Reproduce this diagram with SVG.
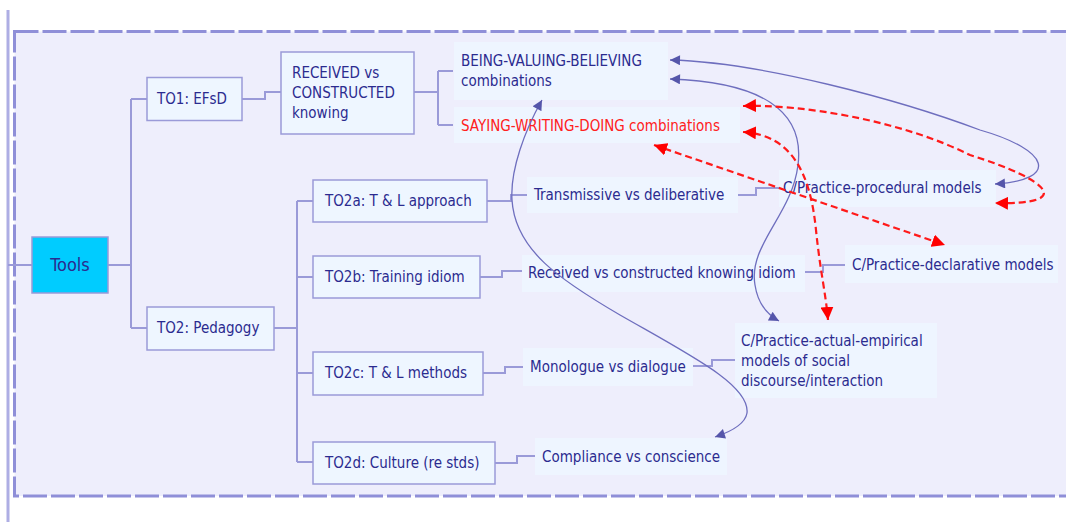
<svg xmlns="http://www.w3.org/2000/svg" width="1066" height="522" viewBox="0 0 1066 522">
<defs>
<style>
.t{font-family:"DejaVu Sans Condensed","Liberation Sans",sans-serif;font-size:15px;fill:#2B2B8F}
.red{fill:#FF2020}
.box{fill:#EEF6FF;stroke:#9A9AD8;stroke-width:1.5}
.lbl{fill:#EEF5FF}
.tree{fill:none;stroke:#9A9AD8;stroke-width:2}
.rel{fill:none;stroke:#6E6EBE;stroke-width:1.3;marker-start:url(#ab);marker-end:url(#ab)}
.rrel{fill:none;stroke:#FF1A1A;stroke-width:2.2;stroke-dasharray:7 4;marker-start:url(#ar);marker-end:url(#ar)}
</style>
<marker id="ab" viewBox="0 0 10 10" refX="10" refY="5" markerWidth="11" markerHeight="10" markerUnits="userSpaceOnUse" orient="auto-start-reverse">
<path d="M0,0 L10,5 L0,10 Z" fill="#5555AA"/>
</marker>
<marker id="ar" viewBox="0 0 10 10" refX="10" refY="5" markerWidth="13" markerHeight="13" markerUnits="userSpaceOnUse" orient="auto-start-reverse">
<path d="M0,0 L10,5 L0,10 Z" fill="#FF0000"/>
</marker>
</defs>
<rect x="0" y="0" width="1066" height="522" fill="#FFFFFF"/>
<rect x="14.5" y="31.5" width="1100" height="464.5" fill="#EEEEFC" stroke="#8F8FD8" stroke-width="3" stroke-dasharray="24 4"/>
<line x1="8" y1="10" x2="8" y2="522" stroke="#AEAEE4" stroke-width="3"/>

<g id="tree-connectors">
<path class="tree" d="M8,265 H32"/>
<path class="tree" d="M108,265 H131 M131,99 V328 M131,99 H147 M131,328 H147"/>
<path class="tree" d="M242,99 H265 V92 H281"/>
<path class="tree" d="M414,92 H438 M438,71 V125 M438,71 H453 M438,125 H453"/>
<path class="tree" d="M274,328 H297 M297,201 V462 M297,201 H313 M297,277 H313 M297,373 H313 M297,462 H313"/>
<path class="tree" d="M487,201 H511 V195 H527"/>
<path class="tree" d="M738,195 H756 V188 H779"/>
<path class="tree" d="M480,277 H502 V271 H522"/>
<path class="tree" d="M805,272 H823 V265 H845"/>
<path class="tree" d="M483,373 H505 V367 H523"/>
<path class="tree" d="M693,366 H712 V360 H735"/>
<path class="tree" d="M495,463 H517 V456 H535"/>
</g>

<g id="tools"><rect x="32" y="237" width="76" height="56" fill="#00CCFF" stroke="#9A9AD8" stroke-width="1.5"/><text class="t" x="70" y="271" text-anchor="middle" style="font-size:18px">Tools</text></g>
<g id="to1"><rect class="box" x="147" y="77.5" width="95" height="43"/><text class="t" x="157" y="104">TO1: EFsD</text></g>
<g id="to2"><rect class="box" x="147" y="307" width="127" height="43"/><text class="t" x="157" y="333">TO2: Pedagogy</text></g>
<g id="received"><rect class="box" x="281" y="52" width="133" height="82"/><text class="t" x="292" y="78">RECEIVED vs</text><text class="t" x="292" y="98">CONSTRUCTED</text><text class="t" x="292" y="118">knowing</text></g>
<g id="bvb"><rect class="lbl" x="454" y="42" width="214" height="58"/><text class="t" x="461" y="66">BEING-VALUING-BELIEVING</text><text class="t" x="461" y="86">combinations</text></g>
<g id="swd"><rect class="lbl" x="454" y="107" width="286" height="36"/><text class="t red" x="461" y="131">SAYING-WRITING-DOING combinations</text></g>
<g id="to2a"><rect class="box" x="313" y="180" width="174" height="42"/><text class="t" x="325" y="206">TO2a: T &amp; L approach</text></g>
<g id="to2b"><rect class="box" x="313" y="256" width="167" height="42"/><text class="t" x="325" y="282">TO2b: Training idiom</text></g>
<g id="to2c"><rect class="box" x="313" y="352" width="170" height="43"/><text class="t" x="325" y="378">TO2c: T &amp; L methods</text></g>
<g id="to2d"><rect class="box" x="313" y="442" width="182" height="42"/><text class="t" x="325" y="468">TO2d: Culture (re stds)</text></g>
<g id="transmissive"><rect class="lbl" x="527" y="177" width="211" height="36"/><text class="t" x="534" y="200">Transmissive vs deliberative</text></g>
<g id="procedural"><rect class="lbl" x="779" y="170" width="217" height="37"/><text class="t" x="783" y="193">C/Practice-procedural models</text></g>
<g id="received-idiom"><rect class="lbl" x="522" y="255" width="283" height="37"/><text class="t" x="528" y="278">Received vs constructed knowing idiom</text></g>
<g id="declarative"><rect class="lbl" x="845" y="245" width="213" height="38"/><text class="t" x="852" y="270">C/Practice-declarative models</text></g>
<g id="monologue"><rect class="lbl" x="523" y="348" width="170" height="38"/><text class="t" x="530" y="372">Monologue vs dialogue</text></g>
<g id="actual-empirical"><rect class="lbl" x="735" y="323" width="202" height="75"/><text class="t" x="741" y="346">C/Practice-actual-empirical</text><text class="t" x="741" y="366">models of social</text><text class="t" x="741" y="386">discourse/interaction</text></g>
<g id="compliance"><rect class="lbl" x="535" y="438" width="192" height="37"/><text class="t" x="542" y="462">Compliance vs conscience</text></g>

<g id="relations">
<path class="rel" d="M670,60 C760,62 900,100 980,130 C1050,150 1060,180 995,184"/>
<path class="rel" d="M670,79 C760,82 805,110 798,165 C792,215 748,245 755,285 C758,305 768,315 779,321"/>
<path class="rel" d="M542,100 C525,130 510,170 512,200 C515,250 560,280 620,315 C690,355 750,385 747,413 C745,425 730,432 715,437"/>
<path class="rrel" d="M743,106 C800,104 900,120 970,155 C1050,180 1075,205 995,203"/>
<path class="rrel" d="M743,132 C790,135 810,170 816,230 C820,270 826,295 828,320"/>
<path class="rrel" d="M654,145 L945,245"/>
</g>
</svg>
